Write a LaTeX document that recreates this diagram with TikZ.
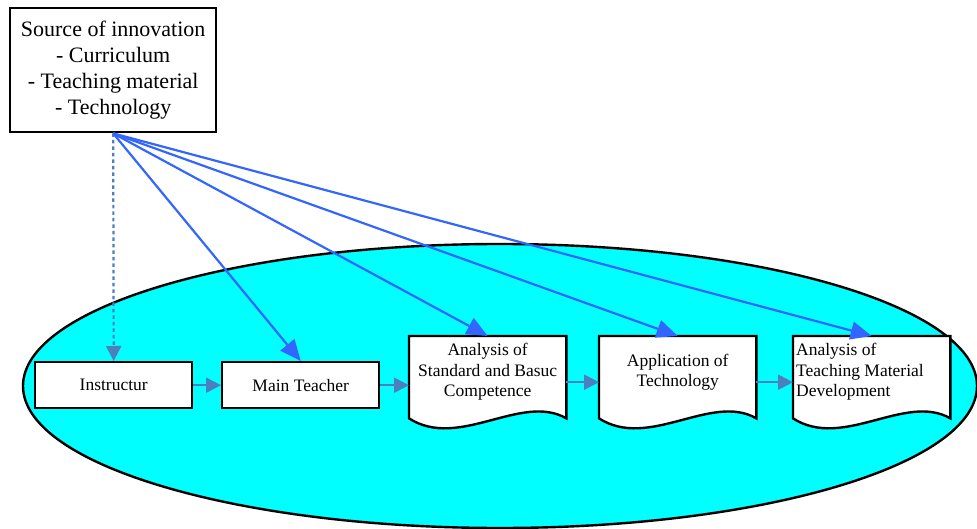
\documentclass[tikz,border=0pt]{standalone}
\usepackage{fontspec}
\setmainfont{Liberation Serif}
\usetikzlibrary{arrows.meta,calc}
\pgfdeclarelayer{background}
\pgfsetlayers{background,main}
\definecolor{blueA}{RGB}{51,102,255}
\definecolor{steelA}{RGB}{76,127,190}
\definecolor{cyanA}{RGB}{0,255,255}
\begin{document}
\begin{tikzpicture}[x=1pt,y=-1pt,
  srcbox/.style={draw=black,line width=2.4pt,fill=white,minimum width=206pt,minimum height=124pt,inner sep=0pt,anchor=north west,align=center,font=\fontsize{22}{26}\selectfont},
  rectbox/.style={draw=black,line width=2.4pt,fill=white,minimum width=157pt,minimum height=46pt,inner sep=0pt,anchor=north west,font=\fontsize{17.5}{20.5}\selectfont},
  docframe/.style={minimum width=157pt,minimum height=82pt,inner sep=0pt,anchor=north west},
  docline/.style={draw=black,line width=2.4pt,fill=white,line join=miter},
  doctext/.style={inner sep=0pt,font=\fontsize{17.5}{20.5}\selectfont},
  bluearrow/.style={draw=blueA,line width=2.2pt,-{Triangle[length=21pt,width=18pt]}},
  steelarrow/.style={draw=steelA,line width=2.2pt,-{Triangle[length=15pt,width=15pt]}},
  dotarrow/.style={draw=steelA,line width=2.2pt,dash pattern=on 3.5pt off 3pt,-{Triangle[length=15pt,width=15pt]}}
]
\useasboundingbox (0,0) rectangle (977,529);

\node[srcbox] (src) at (9,7) {Source of innovation\\- Curriculum\\- Teaching material\\- Technology};

\node[rectbox] (ins) at (34,361) {Instructur};
\node[rectbox] (mt) at (221,361) {Main Teacher};

\node[docframe] (d1) at (409,336) {};
\node[docframe] (d2) at (599,336) {};
\node[docframe] (d3) at (793,336) {};

\node[doctext,align=center] (t1) at ($(d1.center)+(0,-5)$) {Analysis of\\Standard and Basuc\\Competence};
\node[doctext,align=center] (t2) at ($(d2.center)+(0,-5)$) {Application of\\Technology};
\node[doctext,align=left,anchor=west] (t3) at ($(d3.west)+(3,-5)$) {Analysis of\\Teaching Material\\Development};

\begin{pgfonlayer}{background}
  \draw[line width=2.4pt,fill=cyanA] (500,386) ellipse [x radius=477, y radius=142];
  \foreach \d in {d1,d2,d3}{
    \draw[docline] (\d.north west) -- (\d.north east) -- (\d.south east)
      .. controls ($(\d.south east)+(-45,-26)$) and ($(\d.south west)+(50,32)$) .. (\d.south west) -- cycle;
  }
\end{pgfonlayer}

\draw[dotarrow] (src.south) -- (ins.north);
\draw[bluearrow] (src.south) -- (mt.north);
\draw[bluearrow] (src.south) -- (d1.north);
\draw[bluearrow] (src.south) -- (d2.north);
\draw[bluearrow] (src.south) -- (d3.north);

\draw[steelarrow] (ins.east) -- (mt.west);
\draw[steelarrow] (mt.east) -- (mt.east -| d1.west);
\draw[steelarrow] ($(d1.east)+(0,5)$) -- ($(d2.west)+(0,5)$);
\draw[steelarrow] ($(d2.east)+(0,5)$) -- ($(d3.west)+(0,5)$);
\end{tikzpicture}
\end{document}
